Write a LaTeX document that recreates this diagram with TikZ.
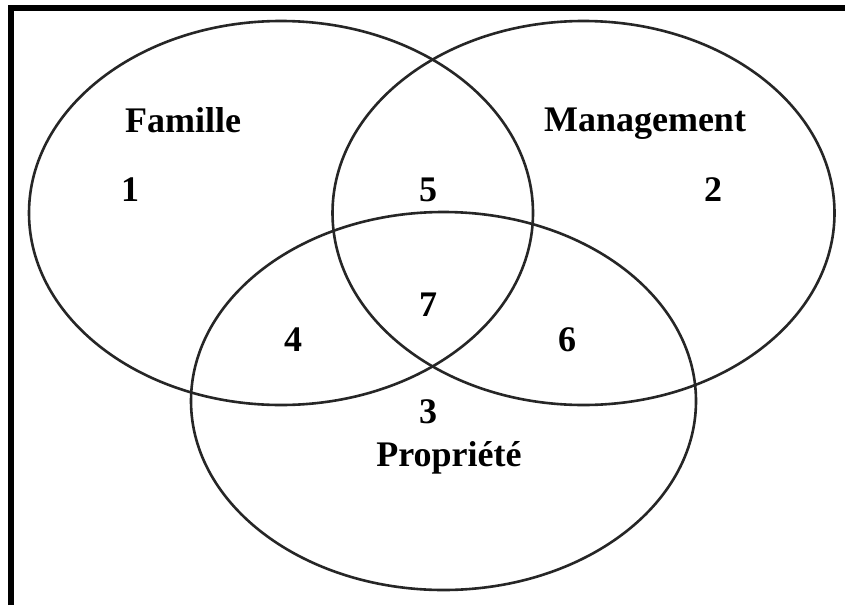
\documentclass[tikz,border=0pt]{standalone}
\usepackage{fontspec}
\setmainfont{Liberation Serif}
\begin{document}
\begin{tikzpicture}[x=1pt,y=-1pt,
  ring/.style={draw=black!85,line width=2.6pt},
  frame/.style={draw=black,line width=6pt},
  lbl/.style={font=\fontsize{36}{40}\selectfont\bfseries,anchor=base,inner sep=0pt}]
\useasboundingbox (0,0) rectangle (845,605);
\fill[white] (0,0) rectangle (845,605);
% frame
\coordinate (fa) at (11,605);
\coordinate (fb) at (11,7.5);
\coordinate (fc) at (845,7.5);
\draw[frame] (fa) -- (fb) -- (fc);
% circles
\draw[ring] (281,213) ellipse [x radius=252, y radius=192];
\draw[ring] (583.5,213) ellipse [x radius=251, y radius=192];
\draw[ring] (443.5,401) ellipse [x radius=252.5, y radius=189];
% labels
\node[lbl] (famille) at (183,132) {Famille};
\node[lbl] (management) at (645,131) {Management};
\node[lbl] (propriete) at (449,466) {Propriété};
\node[lbl] (n1) at (130,201) {1};
\node[lbl] (n5) at (428,201) {5};
\node[lbl] (n2) at (713,201) {2};
\node[lbl] (n7) at (428,316) {7};
\node[lbl] (n4) at (293,351) {4};
\node[lbl] (n6) at (567,351) {6};
\node[lbl] (n3) at (428,423) {3};
\end{tikzpicture}
\end{document}
